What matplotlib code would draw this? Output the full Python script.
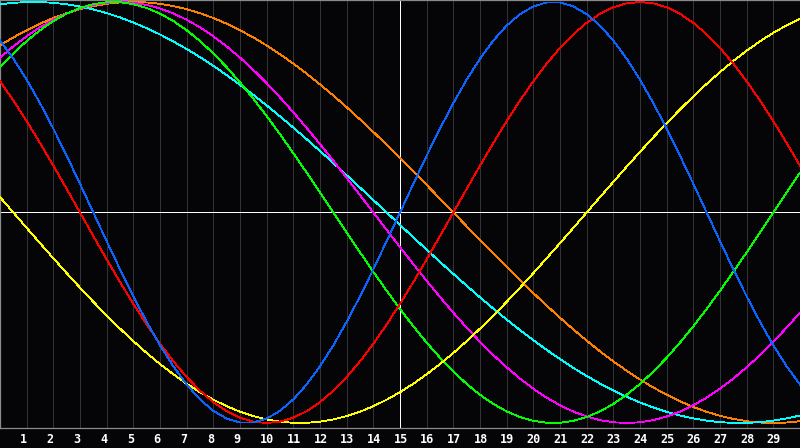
import numpy as np
import matplotlib
matplotlib.use("Agg")
import matplotlib.pyplot as plt
import matplotlib.transforms as mtransforms

# half-day steps, 0 .. 30
days = [i / 2 for i in range(61)]
tick_days = list(range(1, 30))
mid_day = 15

# values, one every half day
red = [0.6235, 0.5320, 0.4339, 0.3303, 0.2225, 0.1120, 0.0, -0.1120, -0.2225, -0.3303,
       -0.4339, -0.5320, -0.6235, -0.7071, -0.7818, -0.8467, -0.9010, -0.9439, -0.9749, -0.9937,
       -1.0, -0.9937, -0.9749, -0.9439, -0.9010, -0.8467, -0.7818, -0.7071, -0.6235, -0.5320,
       -0.4339, -0.3303, -0.2225, -0.1120, 0.0, 0.1120, 0.2225, 0.3303, 0.4339, 0.5320,
       0.6235, 0.7071, 0.7818, 0.8467, 0.9010, 0.9439, 0.9749, 0.9937, 1.0, 0.9937,
       0.9749, 0.9439, 0.9010, 0.8467, 0.7818, 0.7071, 0.6235, 0.5320, 0.4339, 0.3303, 0.2225]
blue = [0.8170, 0.7308, 0.6311, 0.5196, 0.3984, 0.2698, 0.1362, 0.0, -0.1362, -0.2698,
        -0.3984, -0.5196, -0.6311, -0.7308, -0.8170, -0.8879, -0.9423, -0.9791, -0.9977, -0.9977,
        -0.9791, -0.9423, -0.8879, -0.8170, -0.7308, -0.6311, -0.5196, -0.3984, -0.2698, -0.1362,
        0.0, 0.1362, 0.2698, 0.3984, 0.5196, 0.6311, 0.7308, 0.8170, 0.8879, 0.9423,
        0.9791, 0.9977, 0.9977, 0.9791, 0.9423, 0.8879, 0.8170, 0.7308, 0.6311, 0.5196,
        0.3984, 0.2698, 0.1362, 0.0, -0.1362, -0.2698, -0.3984, -0.5196, -0.6311, -0.7308, -0.8170]
yellow = [0.0731, 0.0, -0.0731, -0.1456, -0.2175, -0.2881, -0.3572, -0.4245, -0.4894, -0.5517,
          -0.6111, -0.6672, -0.7200, -0.7687, -0.8133, -0.8535, -0.8893, -0.9204, -0.9464, -0.9675,
          -0.9833, -0.9940, -0.9993, -0.9993, -0.9940, -0.9833, -0.9675, -0.9464, -0.9204, -0.8893,
          -0.8535, -0.8133, -0.7687, -0.7200, -0.6672, -0.6111, -0.5517, -0.4894, -0.4245, -0.3572,
          -0.2881, -0.2175, -0.1456, -0.0731, 0.0, 0.0731, 0.1456, 0.2175, 0.2881, 0.3572,
          0.4245, 0.4894, 0.5517, 0.6111, 0.6672, 0.7200, 0.7687, 0.8133, 0.8535, 0.8893, 0.9204]
green = [0.6901, 0.7557, 0.8146, 0.8660, 0.9096, 0.9450, 0.9718, 0.9898, 0.9989, 0.9989,
         0.9898, 0.9718, 0.9450, 0.9096, 0.8660, 0.8146, 0.7557, 0.6901, 0.6182, 0.5406,
         0.4582, 0.3717, 0.2817, 0.1893, 0.0950, 0.0, -0.0950, -0.1893, -0.2817, -0.3717,
         -0.4582, -0.5406, -0.6182, -0.6901, -0.7557, -0.8146, -0.8660, -0.9096, -0.9450, -0.9718,
         -0.9898, -0.9989, -0.9989, -0.9898, -0.9718, -0.9450, -0.9096, -0.8660, -0.8146, -0.7557,
         -0.6901, -0.6182, -0.5406, -0.4582, -0.3717, -0.2817, -0.1893, -0.0950, 0.0, 0.0950, 0.1893]
magenta = [0.7357, 0.7891, 0.8372, 0.8795, 0.9158, 0.9458, 0.9694, 0.9864, 0.9966, 1.0,
           0.9966, 0.9864, 0.9694, 0.9458, 0.9158, 0.8795, 0.8372, 0.7891, 0.7357, 0.6773,
           0.6142, 0.5469, 0.4759, 0.4017, 0.3247, 0.2455, 0.1646, 0.0826, 0.0, -0.0826,
           -0.1646, -0.2455, -0.3247, -0.4017, -0.4759, -0.5469, -0.6142, -0.6773, -0.7357, -0.7891,
           -0.8372, -0.8795, -0.9158, -0.9458, -0.9694, -0.9864, -0.9966, -1.0, -0.9966, -0.9864,
           -0.9694, -0.9458, -0.9158, -0.8795, -0.8372, -0.7891, -0.7357, -0.6773, -0.6142, -0.5469, -0.4759]
cyan = [0.9890, 0.9961, 0.9996, 0.9996, 0.9961, 0.9890, 0.9785, 0.9646, 0.9473, 0.9267,
        0.9028, 0.8756, 0.8457, 0.8126, 0.7767, 0.7381, 0.6965, 0.6527, 0.6067, 0.5586,
        0.5086, 0.4566, 0.4031, 0.3482, 0.2920, 0.2349, 0.1769, 0.1183, 0.0593, 0.0,
        -0.0593, -0.1183, -0.1769, -0.2349, -0.2920, -0.3482, -0.4031, -0.4566, -0.5086, -0.5586,
        -0.6067, -0.6527, -0.6965, -0.7381, -0.7767, -0.8126, -0.8457, -0.8756, -0.9028, -0.9267,
        -0.9473, -0.9646, -0.9785, -0.9890, -0.9961, -0.9996, -0.9996, -0.9961, -0.9890, -0.9785, -0.9646]
orange = [0.7934, 0.8315, 0.8660, 0.8969, 0.9239, 0.9469, 0.9659, 0.9808, 0.9914, 0.9979,
          1.0, 0.9979, 0.9914, 0.9808, 0.9659, 0.9469, 0.9239, 0.8969, 0.8660, 0.8315,
          0.7934, 0.7518, 0.7071, 0.6593, 0.6088, 0.5556, 0.5, 0.4423, 0.3827, 0.3214,
          0.2588, 0.1951, 0.1305, 0.0654, 0.0, -0.0654, -0.1305, -0.1951, -0.2588, -0.3214,
          -0.3827, -0.4423, -0.5, -0.5556, -0.6088, -0.6593, -0.7071, -0.7518, -0.7934, -0.8315,
          -0.8660, -0.8969, -0.9239, -0.9469, -0.9659, -0.9808, -0.9914, -0.9979, -1.0, -0.9979, -0.9914]

bg = "#050508"
fig = plt.figure(figsize=(8, 4.48), dpi=100, facecolor=bg)
ax = fig.add_axes([0, 20 / 448, 1, 428 / 448])
ax.set_facecolor(bg)

# day grid
for d in tick_days:
    if d != mid_day:
        ax.axvline(d, color="#333335", lw=0.72, zorder=1, antialiased=False)
ax.axvline(mid_day, color="white", lw=0.72, zorder=1, antialiased=False)
ax.axhline(0, color="white", lw=0.72, zorder=1, antialiased=False)

series = [
    (orange, "#ff8000"),
    (cyan, "#00ffff"),
    (magenta, "#ff00ff"),
    (green, "#00ff00"),
    (yellow, "#ffff00"),
    (red, "#ff0000"),
    (blue, "#0a64ff"),
]
for vals, col in series:
    ax.plot(days, vals, color=col, lw=0.6, zorder=3, antialiased=False)

ax.set_xlim(0, 30)
ax.set_ylim(-1.0238, 1.0095)

ax.set_xticks(tick_days)
ax.set_xticklabels([str(d) for d in tick_days], color="white",
                   fontsize=8.5, fontweight="bold", family="DejaVu Sans Mono")
ax.tick_params(axis="x", length=0, pad=3.5)
ax.set_yticks([])

# labels start a little left of their grid line
shift = mtransforms.ScaledTranslation(-6.5 / 100, 0, fig.dpi_scale_trans)
for lab in ax.get_xticklabels():
    lab.set_horizontalalignment("left")
    lab.set_transform(lab.get_transform() + shift)

for side in ["left", "top", "bottom"]:
    ax.spines[side].set_color("#8a8a8a")
    ax.spines[side].set_linewidth(0.9)
ax.spines["right"].set_visible(False)

fig.savefig("out.png", dpi=100, facecolor=bg)
